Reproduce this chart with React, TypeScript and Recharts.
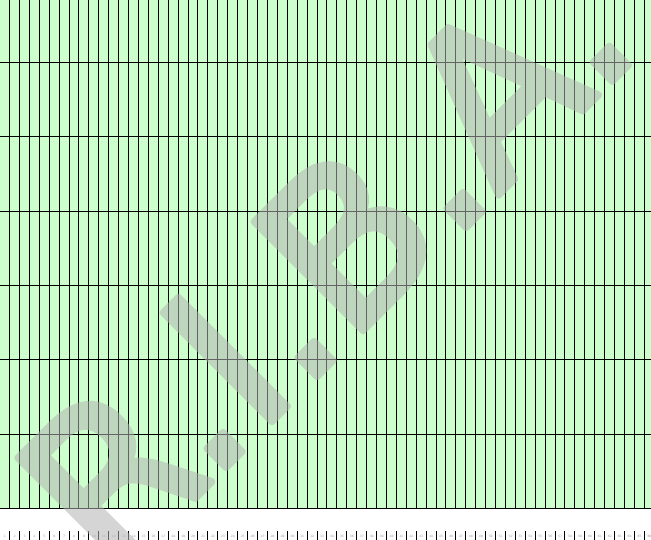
import { ComposedChart, XAxis, YAxis, ReferenceArea, ReferenceLine } from "recharts";

// band labels along the bottom (only their tops are visible in the picture)
const categories = [
  "1", "2", "3", "4", "5", "6", "7", "8", "9", "10", "11",
  "12", "13", "14", "15", "16", "17", "18", "19", "20", "21", "22",
  "23", "24", "25", "26", "27", "28", "29", "30", "31", "32", "33",
  "34", "35", "36", "37", "38", "39", "40", "41", "42", "43", "44",
  "45", "46", "47", "48", "49", "50", "51", "52", "53", "54", "55",
  "56", "57", "58", "59", "60", "61", "62", "63", "64", "65", "66"
];
// band boundaries (vertical rules)
const columns = [
  0, 1, 2, 3, 4, 5, 6, 7, 8, 9, 10, 11, 12, 13, 14, 15, 16, 17, 18, 19, 20,
  21, 22, 23, 24, 25, 26, 27, 28, 29, 30, 31, 32, 33, 34, 35, 36, 37, 38, 39,
  40, 41, 42, 43, 44, 45, 46, 47, 48, 49, 50, 51, 52, 53, 54, 55, 56, 57, 58,
  59, 60, 61, 62, 63, 64
];
// horizontal rules
const rows = [0, 1, 2, 3, 4, 5, 6];

const W = 651;
const H = 540;
const AXIS_H = 9;
const X_MIN = -0.958;
const X_MAX = 64.67;
const Y_MIN = -0.303;
const Y_MAX = 6.841;
const GREEN = "#ccffcc";

const data = categories.map((label, i) => ({ pos: i - 0.5, label }));
const halfStep = (W / (X_MAX - X_MIN)) / 2;
const plotBottom = H - AXIS_H;

const BandTick = ({ x, index }) => {
  const label = categories[index] ?? "";
  return (
    <g>
      <line
        x1={x + halfStep}
        x2={x + halfStep}
        y1={plotBottom}
        y2={H + 1}
        stroke="#000"
        strokeWidth={1}
        shapeRendering="crispEdges"
      />
      <text
        x={x}
        y={plotBottom + 6}
        fontSize={3}
        fill="#999"
        textAnchor="middle"
        fontFamily="DejaVu Sans"
      >
        {label}
      </text>
    </g>
  );
};

const App = () => {
  return (
    <div style={{ position: "absolute", left: 0, top: 0, width: W, height: H, overflow: "hidden", background: "#fff" }}>
      <ComposedChart
        width={W}
        height={H}
        data={data}
        margin={{ top: 0, right: 0, bottom: 0, left: 0 }}
      >
        <XAxis
          type="number"
          dataKey="pos"
          domain={[X_MIN, X_MAX]}
          allowDataOverflow
          ticks={data.map((d) => d.pos)}
          interval={0}
          axisLine={false}
          tickLine={false}
          height={AXIS_H}
          tick={<BandTick />}
        />
        <YAxis type="number" domain={[Y_MIN, Y_MAX]} allowDataOverflow hide />
        <ReferenceArea
          x1={X_MIN}
          x2={X_MAX}
          y1={0}
          y2={Y_MAX}
          fill={GREEN}
          fillOpacity={1}
          stroke="none"
        />
        {rows.map((v) => (
          <ReferenceLine key={"h" + v} y={v} stroke="#000" strokeWidth={1} shapeRendering="crispEdges" />
        ))}
        {columns.map((k) => (
          <ReferenceLine
            key={"v" + k}
            segment={[{ x: k, y: 0 }, { x: k, y: Y_MAX }]}
            stroke="#000"
            strokeWidth={1}
            shapeRendering="crispEdges"
          />
        ))}
      </ComposedChart>
      <svg
        width={W}
        height={H}
        style={{ position: "absolute", left: 0, top: 0, pointerEvents: "none" }}
      >
        <g opacity={0.55}>
          <text
            x={378}
            y={315}
            transform="rotate(-45 378 315)"
            textAnchor="middle"
            fontFamily="DejaVu Sans"
            fontSize={210}
            fill="#b4b4b4"
            stroke="#b4b4b4"
            strokeWidth={8}
            strokeLinejoin="round"
          >
            R.I.B.A.
          </text>
        </g>
      </svg>
    </div>
  );
};

export default App;
